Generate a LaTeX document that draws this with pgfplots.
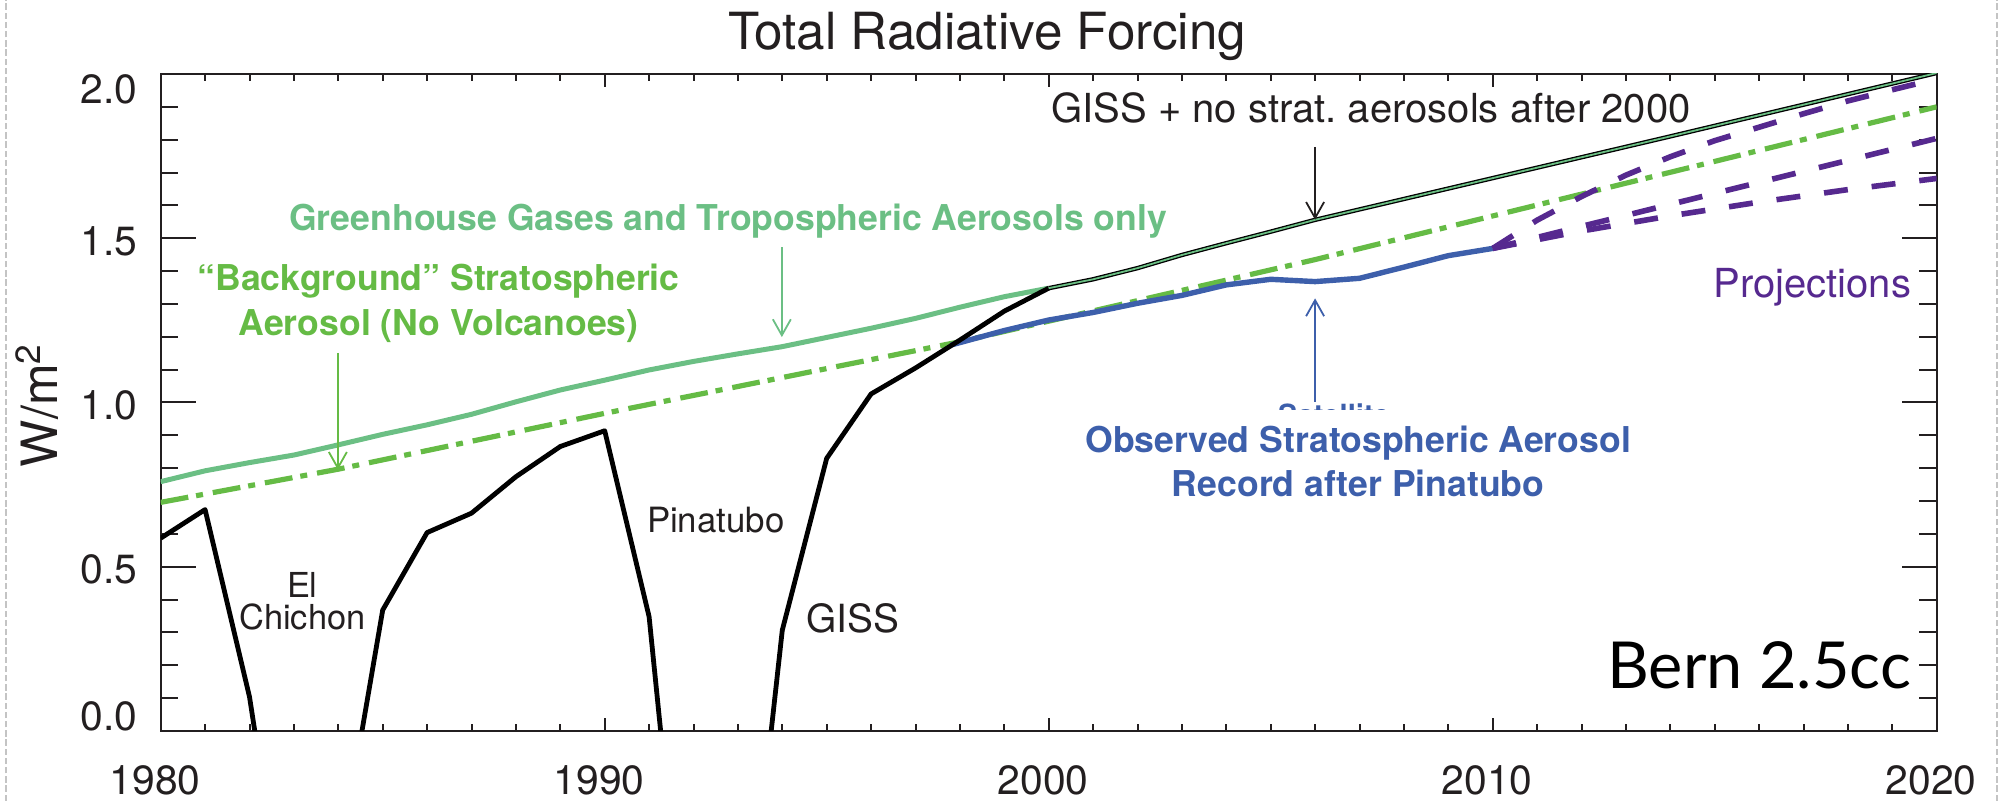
\documentclass[border=0pt]{standalone}
\usepackage{fontspec}
\setmainfont{TeX Gyre Heros}
\newfontfamily\bernfont{Lato}
\usepackage{pgfplots}
\usepackage{pgfplotstable}
\pgfplotsset{compat=1.18}
\usetikzlibrary{arrows.meta}
\definecolor{txt}{HTML}{231F20}
\definecolor{ghg}{HTML}{6BBF84}
\definecolor{bgr}{HTML}{65BB45}
\definecolor{obs}{HTML}{3D5FAB}
\definecolor{proj}{HTML}{56298F}
\definecolor{brd}{HTML}{C4C4C4}

\pgfplotstableread{
year val
1980 0.587
1981 0.674
1982 0.104
1983 -0.77
1984 -0.42
1985 0.368
1986 0.604
1987 0.663
1988 0.774
1989 0.866
1990 0.914
1991 0.348
1992 -0.99
1993 -0.92
1994 0.307
1995 0.830
1996 1.026
1997 1.105
1998 1.190
1999 1.278
2000 1.348
}\giss

\pgfplotstableread{
year val
2000 1.348
2001 1.375
2002 1.409
2003 1.449
2004 1.485
2005 1.520
2006 1.556
2010 1.683
2014 1.810
2020 2.003
}\nostrat

\pgfplotstableread{
year val
1980 0.759
1981 0.792
1982 0.817
1983 0.840
1984 0.871
1985 0.903
1986 0.932
1987 0.964
1988 1.002
1989 1.038
1990 1.068
1991 1.099
1992 1.125
1993 1.148
1994 1.170
1995 1.198
1996 1.226
1997 1.256
1998 1.290
1999 1.322
2000 1.348
}\ghgt

\pgfplotstableread{
year val
1980 0.696
1984 0.797
1990 0.967
1998 1.185
2006 1.435
2020 1.900
}\bkg

\pgfplotstableread{
year val
1997.8 1.175
1999 1.219
2000 1.251
2001 1.274
2002 1.302
2003 1.326
2004 1.358
2005 1.375
2006 1.368
2007 1.378
2008 1.412
2009 1.447
2010 1.469
}\obsd

\pgfplotstableread{
year val
2010 1.469
2011 1.555
2012 1.627
2013 1.692
2014 1.748
2015 1.797
2016 1.838
2017 1.879
2018 1.918
2019 1.952
2020 1.985
}\projA

\pgfplotstableread{
year val
2010 1.469
2020 1.804
}\projB

\pgfplotstableread{
year val
2010 1.469
2012 1.522
2014 1.568
2016 1.610
2018 1.648
2020 1.682
}\projC

\begin{document}
\begin{tikzpicture}
\path[use as bounding box] (-40.175pt,-17.5pt) rectangle (460.575pt,182.75pt);
\draw[brd, line width=0.6pt, dash pattern=on 1.6pt off 0.7pt] (-38.7pt,-17.5pt) -- (-38.7pt,182.75pt);
\draw[brd, line width=0.6pt, dash pattern=on 1.6pt off 0.7pt] (459.1pt,-17.5pt) -- (459.1pt,182.75pt);

% axis for x ticks
\begin{axis}[at={(0,0)}, anchor=south west, scale only axis,
  width=444pt, height=164.25pt,
  xmin=1980, xmax=2020, ymin=0, ymax=2,
  xtick={1980,1990,2000,2010,2020},
  xticklabels={1980,1990,2000,2010,2020},
  minor x tick num=9, ytick=\empty,
  major tick length=3.2pt, minor tick length=1.7pt,
  axis line style={line width=0.5pt, txt},
  tick style={line width=0.5pt, txt},
  xticklabel style={font=\fontsize{10.2}{12}\selectfont, text=txt, anchor=north, inner sep=0pt, yshift=-8.5pt, xshift=-1.4pt},
]
\addplot[draw=none] coordinates {(1980,0)};
\end{axis}

% main axis
\begin{axis}[at={(0,0)}, anchor=south west, scale only axis,
  width=444pt, height=164.25pt,
  xmin=1980, xmax=2020, ymin=0, ymax=2,
  xtick=\empty,
  ytick={0,0.5,1,1.5,2},
  yticklabels={{\raisebox{4.3pt}[\height][\depth]{0.0}},{0.5},{1.0},{1.5},{\raisebox{-3.05pt}[\height][\depth]{2.0}}},
  minor y tick num=4,
  major tick length=8.8pt, minor tick length=4.4pt,
  axis line style={line width=0.5pt, txt},
  tick style={line width=0.5pt, txt},
  yticklabel style={font=\fontsize{10.2}{12}\selectfont, text=txt, anchor=east, inner sep=0pt, xshift=-5.7pt, yshift=-0.7pt},
  clip mode=individual,
]
\addplot[bgr, line width=1.3pt, dash pattern=on 7pt off 2pt on 1.75pt off 2.5pt] table {\bkg};
\addplot[ghg, line width=1.25pt, line join=round] table {\ghgt};
\addplot[obs, line width=1.35pt, line join=round] table {\obsd};
\addplot[black, line width=1.2pt, line join=round] table {\giss};
\addplot[black, line width=1.1pt, line join=round] table {\nostrat};
\addplot[ghg, line width=0.45pt, line join=round] table {\nostrat};
\addplot[proj, line width=1.4pt, dash pattern=on 6pt off 6pt] table {\projA};
\addplot[proj, line width=1.4pt, dash pattern=on 6pt off 6pt] table {\projB};
\addplot[proj, line width=1.4pt, dash pattern=on 6pt off 6pt] table {\projC};

% annotations
\node[anchor=base, font=\fontsize{10}{12}\selectfont, text=txt] at (axis cs:2007.26,1.851) {GISS + no strat.\ aerosols after 2000};
\draw[-{Straight Barb[length=4pt,width=4.5pt]}, line width=0.45pt, txt] (axis cs:2006,1.778) -- (axis cs:2006,1.556);

\node[anchor=base, font=\bfseries\fontsize{8.9}{10}\selectfont, text=ghg] at (axis cs:1992.78,1.525) {Greenhouse Gases and Tropospheric Aerosols only};
\draw[-{Straight Barb[length=4pt,width=4.5pt]}, line width=0.45pt, ghg] (axis cs:1993.99,1.473) -- (axis cs:1993.99,1.199);

\node[anchor=base, font=\bfseries\fontsize{8.9}{10}\selectfont, text=bgr] at (axis cs:1986.26,1.342) {“Background” Stratospheric};
\node[anchor=base, font=\bfseries\fontsize{8.9}{10}\selectfont, text=bgr] at (axis cs:1986.26,1.205) {Aerosol (No Volcanoes)};
\draw[-{Straight Barb[length=4pt,width=4.5pt]}, line width=0.45pt, bgr] (axis cs:1983.99,1.151) -- (axis cs:1983.99,0.795);

\node[anchor=base, font=\bfseries\fontsize{8.9}{10}\selectfont, text=obs] at (axis cs:2006.97,0.849) {Observed Stratospheric Aerosol};
\node[anchor=base, font=\bfseries\fontsize{8.9}{10}\selectfont, text=obs] at (axis cs:2006.97,0.713) {Record after Pinatubo};
\draw[-{Straight Barb[length=4pt,width=4.5pt]}, line width=0.45pt, obs] (axis cs:2006,1.002) -- (axis cs:2006,1.317);
\begin{scope}
\clip (axis cs:2004.5,0.9955) rectangle (axis cs:2008.5,0.9787);
\node[anchor=base west, inner sep=0pt, font=\bfseries\fontsize{7.3}{9}\selectfont, text=obs] at (axis cs:2005.15,0.929) {Satellite};
\end{scope}

\node[anchor=base east, inner sep=0pt, font=\fontsize{10}{12}\selectfont, text=proj] at (axis cs:2019.44,1.321) {Projections};

\node[anchor=base, font=\fontsize{8.6}{10}\selectfont, text=txt] at (axis cs:1983.19,0.405) {El};
\node[anchor=base, font=\fontsize{8.6}{10}\selectfont, text=txt] at (axis cs:1983.19,0.310) {Chichon};
\node[anchor=base, font=\fontsize{8.7}{10}\selectfont, text=txt] at (axis cs:1992.50,0.603) {Pinatubo};
\node[anchor=base, font=\fontsize{9.7}{11}\selectfont, text=txt] at (axis cs:1995.59,0.301) {GISS};
\node[anchor=base east, inner sep=0pt, font=\bernfont\fontsize{16.2}{19}\selectfont, text=black] at (axis cs:2019.44,0.128) {Bern 2.5cc};
\end{axis}

\node[anchor=base, font=\fontsize{12.8}{15}\selectfont, text=txt] at (206.6pt,170.25pt) {Total Radiative Forcing};
\node[rotate=90, anchor=base, font=\fontsize{12.5}{15}\selectfont, text=txt] at (-25.7pt,81.5pt) {W/m\textsuperscript{2}};
\end{tikzpicture}
\end{document}
